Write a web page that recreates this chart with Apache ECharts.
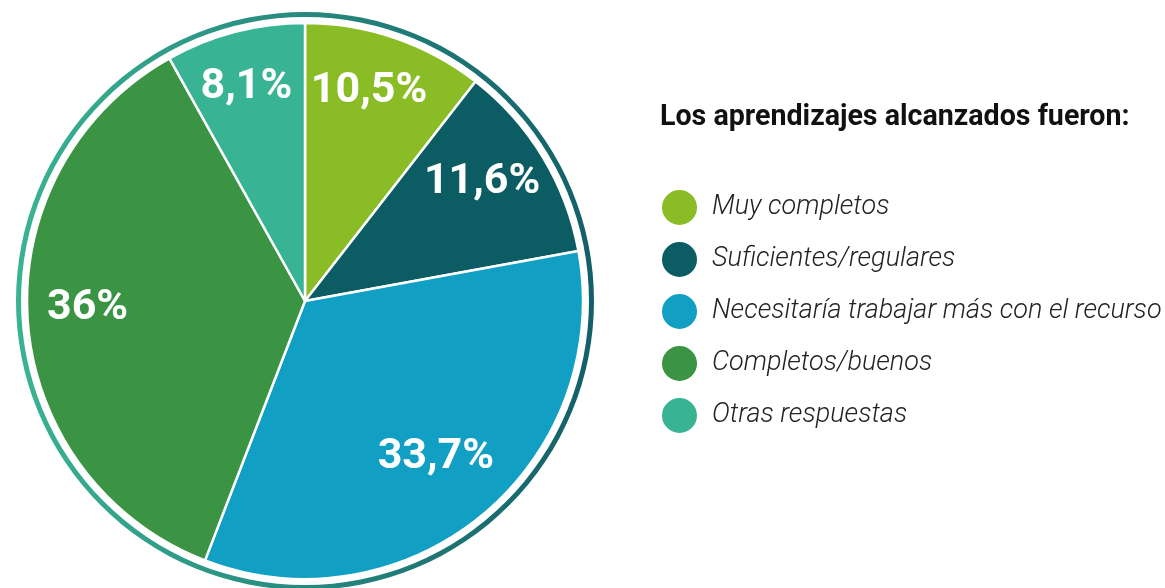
<!DOCTYPE html>
<html>
<head>
    <meta charset="UTF-8">
    <script src="https://cdn.jsdelivr.net/npm/echarts@6/dist/echarts.min.js"></script>
    <style>
        html, body { margin: 0; padding: 0; background: #fff; }
        #container { width: 1165px; height: 588px; }
    </style>
</head>
<body>
<div id="container"></div>
<script type="text/javascript">
    // datos del gráfico
    var categorias = ['Muy completos', 'Suficientes/regulares', 'Necesitaría trabajar más con el recurso', 'Completos/buenos', 'Otras respuestas'];
    var valores = [10.5, 11.6, 33.7, 36, 8.1];
    var etiquetas = ['10,5%', '11,6%', '33,7%', '36%', '8,1%'];
    var colores = ['#8abd25', '#0c5c64', '#11a0c3', '#3a9443', '#38b393'];
    var titulo = 'Los aprendizajes alcanzados fueron:';

    var dom = document.getElementById('container');
    var myChart = echarts.init(dom, null, { renderer: 'canvas' });

    var datosPie = categorias.map(function (c, i) {
        return { name: c, value: valores[i], itemStyle: { color: colores[i] } };
    });
    var datosEtiquetas = categorias.map(function (c, i) {
        return { name: c, value: valores[i], label: { formatter: etiquetas[i] } };
    });

    var centro = [305, 301];

    var option = {
        animation: false,
        title: {
            text: titulo,
            left: 660,
            top: 103,
            padding: 0,
            textStyle: { fontFamily: 'Roboto', fontSize: 28.6, fontWeight: 'bold', color: '#111' }
        },
        legend: {
            orient: 'vertical',
            left: 660,
            top: 188,
            padding: 0,
            icon: 'circle',
            itemWidth: 37,
            itemHeight: 37,
            itemGap: 13,
            data: categorias,
            textStyle: {
                fontFamily: 'Roboto',
                fontSize: 27,
                fontStyle: 'italic',
                fontWeight: 300,
                color: '#222',
                padding: [0, 0, 0, 9]
            }
        },
        series: [
            {
                // anillo exterior
                type: 'pie',
                center: centro,
                radius: [284, 289],
                silent: true,
                label: { show: false },
                labelLine: { show: false },
                itemStyle: {
                    color: new echarts.graphic.LinearGradient(0, 0, 1, 0, [
                        { offset: 0, color: '#3ab393' },
                        { offset: 1, color: '#135f69' }
                    ])
                },
                data: [{ name: 'anillo', value: 1 }]
            },
            {
                type: 'pie',
                center: centro,
                radius: [0, 278],
                startAngle: 90,
                clockwise: true,
                silent: true,
                label: { show: false },
                labelLine: { show: false },
                itemStyle: { borderColor: '#fff', borderWidth: 2.5 },
                data: datosPie
            },
            {
                // serie transparente solo para las etiquetas
                type: 'pie',
                center: [300, 293],
                radius: [142, 278],
                startAngle: 90,
                clockwise: true,
                silent: true,
                itemStyle: { color: 'rgba(0,0,0,0)' },
                label: {
                    show: true,
                    position: 'inside',
                    fontFamily: 'Roboto',
                    fontSize: 43,
                    fontWeight: 'bold',
                    color: '#fff'
                },
                labelLine: { show: false },
                data: datosEtiquetas
            }
        ]
    };

    myChart.setOption(option);
    window.addEventListener('resize', myChart.resize);
</script>
</body>
</html>
